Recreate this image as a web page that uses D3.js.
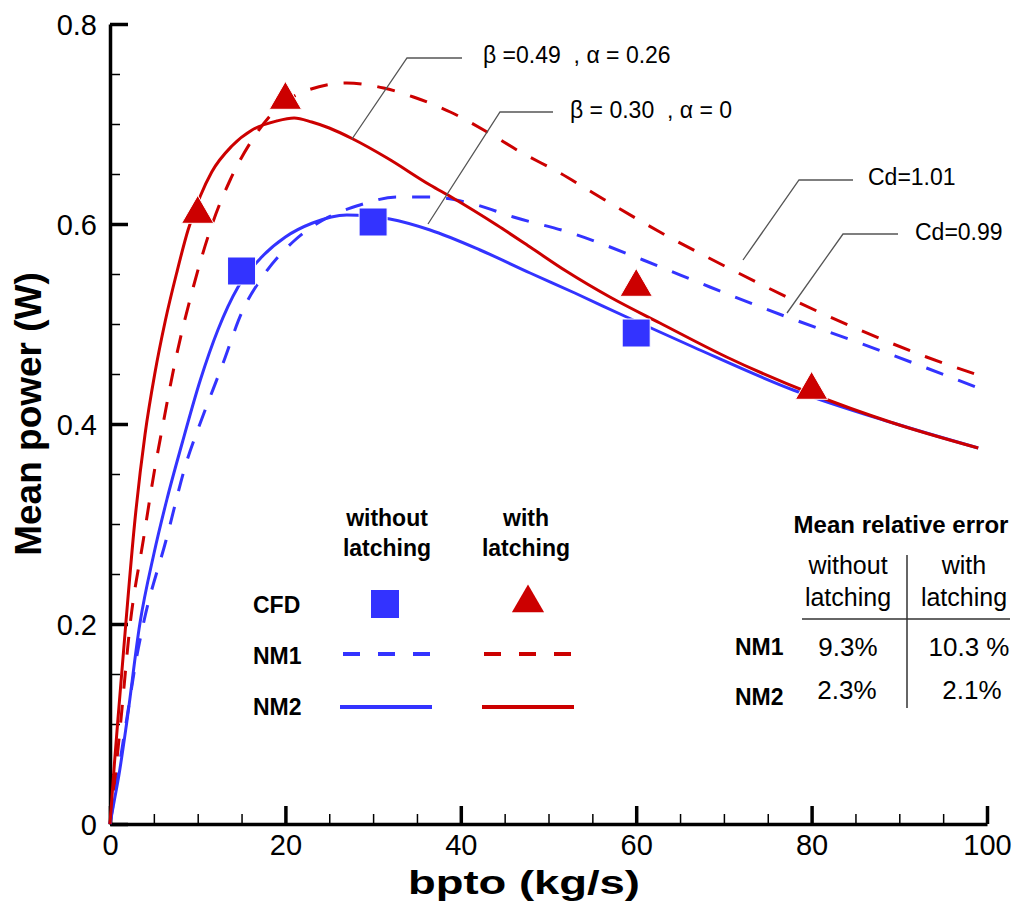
<!DOCTYPE html>
<html>
<head>
<meta charset="utf-8">
<script src="https://cdn.jsdelivr.net/npm/d3@7"></script>
<style>
  html, body { margin: 0; padding: 0; background: #fff; }
  svg { display: block; font-family: "Liberation Sans", Arial, sans-serif; }
  .pre { white-space: pre; }
</style>
</head>
<body>
<svg id="chart" width="1016" height="901"></svg>
<script>
// ---------- data ----------
const xTicks = [0, 20, 40, 60, 80, 100];
const yTicks = [0, 0.2, 0.4, 0.6, 0.8];
const xTickLabels = ["0", "20", "40", "60", "80", "100"];
const yTickLabels = ["0", "0.2", "0.4", "0.6", "0.8"];

// NM2 with latching (red solid)
const nm2LatchX = [0, 0.5, 1, 1.8, 2.8, 4, 5.1, 6.3, 7.6, 8.9, 10.3, 11.6, 13.9, 16.2, 19, 21, 23, 25, 27.7, 31.6, 36.5, 39.1, 44.1, 47.9, 52, 57, 62.7, 70.3, 79.8, 89.3, 99];
const nm2LatchY = [0, 0.06, 0.115, 0.2, 0.3, 0.39, 0.45, 0.503, 0.551, 0.594, 0.628, 0.652, 0.678, 0.694, 0.703, 0.706, 0.702, 0.696, 0.685, 0.666, 0.639, 0.626, 0.599, 0.577, 0.553, 0.527, 0.501, 0.467, 0.431, 0.401, 0.376];

// NM2 without latching (blue solid)
const nm2NoLatchX = [0, 0.5, 1, 1.9, 3.4, 5, 6.5, 8.2, 10.3, 12.3, 14.6, 17.3, 20, 23.1, 27, 31.9, 36.5, 42.2, 47.9, 53, 58.9, 66.5, 77.9, 89.3, 99];
const nm2NoLatchY = [0, 0.024, 0.048, 0.101, 0.2, 0.27, 0.325, 0.38, 0.444, 0.494, 0.537, 0.567, 0.587, 0.601, 0.609, 0.605, 0.594, 0.574, 0.551, 0.531, 0.507, 0.477, 0.434, 0.401, 0.376];

// NM1 with latching (red dashed)
const nm1LatchX = [0, 0.5, 1.2, 2.3, 3.8, 5.1, 5.9, 7.4, 9.5, 11.7, 13.7, 16.2, 19, 22, 27, 31.2, 34.6, 38.8, 43, 46.8, 51.3, 55.1, 62.7, 70.3, 77.9, 85.5, 93.1, 99];
const nm1LatchY = [0, 0.04, 0.1, 0.2, 0.284, 0.355, 0.393, 0.461, 0.537, 0.601, 0.644, 0.684, 0.715, 0.732, 0.741, 0.736, 0.727, 0.712, 0.692, 0.672, 0.651, 0.631, 0.592, 0.557, 0.524, 0.494, 0.467, 0.449];

// NM1 without latching (blue dashed)
const nm1NoLatchX = [0, 1, 2, 3, 3.8, 6.4, 8.8, 10, 12.9, 15, 17.7, 21.1, 24.5, 28.5, 32.7, 36.5, 41, 46, 52.6, 60.8, 68.4, 77.2, 85.5, 93.1, 99];
const nm1NoLatchY = [0, 0.055, 0.11, 0.165, 0.2, 0.284, 0.364, 0.394, 0.461, 0.511, 0.551, 0.584, 0.605, 0.619, 0.627, 0.627, 0.621, 0.607, 0.591, 0.564, 0.537, 0.507, 0.481, 0.456, 0.436];

// CFD
const cfdNoLatchX = [15, 30, 60];
const cfdNoLatchY = [0.553, 0.602, 0.491];
const cfdLatchX = [10, 20, 60, 80];
const cfdLatchY = [0.612, 0.726, 0.539, 0.436];

// ---------- setup ----------
const BLUE = "#3333FF", RED = "#CC0000";
const svg = d3.select("#chart");
const x = d3.scaleLinear().domain([0, 100]).range([110, 987]);
const y = d3.scaleLinear().domain([0, 0.8]).range([824, 24]);

// axes
const gx = svg.append("g").attr("transform", "translate(0,824)");
gx.call(d3.axisBottom(x).tickValues(d3.range(0, 101, 5)).tickSizeInner(-10).tickSizeOuter(0).tickFormat(""));
gx.selectAll(".tick line").attr("stroke", "#000").attr("stroke-width", 1.5);
gx.select(".domain").remove();
const gx2 = svg.append("g").attr("transform", "translate(0,824)");
gx2.call(d3.axisBottom(x).tickValues(xTicks).tickSizeInner(-18).tickSizeOuter(0).tickFormat((d, i) => xTickLabels[i]));
gx2.selectAll(".tick line").attr("stroke", "#000").attr("stroke-width", 3.5);
gx2.select(".domain").attr("stroke", "#000").attr("stroke-width", 3.5);
gx2.selectAll(".tick text").attr("y", 31).attr("dy", 0).attr("font-size", 29).attr("fill", "#000")
  .attr("font-family", "Liberation Sans, Arial, sans-serif");

const gy = svg.append("g").attr("transform", "translate(110,0)");
gy.call(d3.axisLeft(y).tickValues(d3.range(0, 0.801, 0.05)).tickSizeInner(-10).tickSizeOuter(0).tickFormat(""));
gy.selectAll(".tick line").attr("stroke", "#000").attr("stroke-width", 1.5);
gy.select(".domain").remove();
const gy2 = svg.append("g").attr("transform", "translate(110,0)");
gy2.call(d3.axisLeft(y).tickValues(yTicks).tickSizeInner(-18).tickSizeOuter(0).tickPadding(13).tickFormat((d, i) => yTickLabels[i]));
gy2.selectAll(".tick line").attr("stroke", "#000").attr("stroke-width", 3.5);
gy2.select(".domain").attr("stroke", "#000").attr("stroke-width", 3.5);
gy2.selectAll(".tick text").attr("font-size", 29).attr("fill", "#000").attr("dy", "0.35em")
  .attr("font-family", "Liberation Sans, Arial, sans-serif");

// axis titles
svg.append("text").attr("x", 524).attr("y", 894).attr("text-anchor", "middle")
  .attr("font-size", 33).attr("font-weight", "bold")
  .attr("textLength", 232).attr("lengthAdjust", "spacingAndGlyphs").text("bpto (kg/s)");
svg.append("text").attr("transform", "translate(41,414) rotate(-90)").attr("text-anchor", "middle")
  .attr("font-size", 37).attr("font-weight", "bold").text("Mean power (W)");

// lines
const line = d3.line().x(d => x(d[0])).y(d => y(d[1])).curve(d3.curveMonotoneX);
function drawLine(xs, ys, color, dashed) {
  svg.append("path").datum(xs.map((v, i) => [v, ys[i]]))
    .attr("d", line).attr("fill", "none").attr("stroke", color).attr("stroke-width", 3)
    .attr("stroke-linejoin", "round")
    .attr("stroke-dasharray", dashed ? "18,16" : null);
}
drawLine(nm1NoLatchX, nm1NoLatchY, BLUE, true);
drawLine(nm1LatchX, nm1LatchY, RED, true);
drawLine(nm2NoLatchX, nm2NoLatchY, BLUE, false);
drawLine(nm2LatchX, nm2LatchY, RED, false);

// markers
const sq = d3.symbol().type(d3.symbolSquare).size(28 * 28);
const tri = d3.symbol().type(d3.symbolTriangle).size(450);
svg.append("g").selectAll("path").data(cfdNoLatchX.map((v, i) => [v, cfdNoLatchY[i]])).join("path")
  .attr("d", sq).attr("transform", d => `translate(${x(d[0])},${y(d[1])})`)
  .attr("fill", BLUE).attr("stroke", "#fff").attr("stroke-width", 1);
svg.append("g").selectAll("path").data(cfdLatchX.map((v, i) => [v, cfdLatchY[i]])).join("path")
  .attr("d", tri).attr("transform", d => `translate(${x(d[0])},${y(d[1]) + 2})`)
  .attr("fill", RED).attr("stroke", "#fff").attr("stroke-width", 1);

// leader annotations
const leaders = [
  { pts: [[352, 139], [407, 58], [462, 58]], tx: 483, ty: 55, t: "β =0.49  , α = 0.26" },
  { pts: [[428, 224], [500, 112], [553, 112]], tx: 570, ty: 110, t: "β = 0.30  , α = 0" },
  { pts: [[743, 260], [799, 180], [853, 180]], tx: 868, ty: 177, t: "Cd=1.01" },
  { pts: [[787, 313], [843, 234], [898, 234]], tx: 915, ty: 232, t: "Cd=0.99" }
];
leaders.forEach(l => {
  svg.append("polyline").attr("points", l.pts.map(p => p.join(",")).join(" "))
    .attr("fill", "none").attr("stroke", "#555").attr("stroke-width", 1.3);
  svg.append("text").attr("class", "pre").attr("x", l.tx).attr("y", l.ty).attr("dy", "0.35em")
    .attr("font-size", 23).attr("fill", "#000").text(l.t);
});

// legend
const lg = svg.append("g").attr("font-size", 23).attr("font-weight", "bold").attr("fill", "#000");
lg.append("text").attr("x", 387).attr("y", 518).attr("dy", "0.35em").attr("text-anchor", "middle").text("without");
lg.append("text").attr("x", 387).attr("y", 548).attr("dy", "0.35em").attr("text-anchor", "middle").text("latching");
lg.append("text").attr("x", 526).attr("y", 518).attr("dy", "0.35em").attr("text-anchor", "middle").text("with");
lg.append("text").attr("x", 526).attr("y", 548).attr("dy", "0.35em").attr("text-anchor", "middle").text("latching");
lg.append("text").attr("x", 253).attr("y", 605).attr("dy", "0.35em").text("CFD");
lg.append("text").attr("x", 253).attr("y", 656).attr("dy", "0.35em").text("NM1");
lg.append("text").attr("x", 253).attr("y", 707).attr("dy", "0.35em").text("NM2");
svg.append("path").attr("d", sq).attr("transform", "translate(385,604)").attr("fill", BLUE);
svg.append("path").attr("d", tri).attr("transform", "translate(528,603)").attr("fill", RED);
[[343, 432, BLUE], [484, 573, RED]].forEach(s => {
  svg.append("line").attr("x1", s[0]).attr("x2", s[1]).attr("y1", 654).attr("y2", 654)
    .attr("stroke", s[2]).attr("stroke-width", 4).attr("stroke-dasharray", "17,18");
});
[[340, 432, BLUE], [482, 574, RED]].forEach(s => {
  svg.append("line").attr("x1", s[0]).attr("x2", s[1]).attr("y1", 707).attr("y2", 707)
    .attr("stroke", s[2]).attr("stroke-width", 4);
});

// error table
const tb = svg.append("g").attr("fill", "#000");
tb.append("text").attr("x", 901).attr("y", 525).attr("dy", "0.35em").attr("text-anchor", "middle")
  .attr("font-size", 24).attr("font-weight", "bold").text("Mean relative error");
[["without", 848, 565], ["latching", 848, 597], ["with", 964, 565], ["latching", 964, 597]].forEach(h => {
  tb.append("text").attr("x", h[1]).attr("y", h[2]).attr("dy", "0.35em").attr("text-anchor", "middle")
    .attr("font-size", 25).text(h[0]);
});
tb.append("line").attr("x1", 907).attr("x2", 907).attr("y1", 555).attr("y2", 708).attr("stroke", "#333").attr("stroke-width", 1.5);
tb.append("line").attr("x1", 802).attr("x2", 1010).attr("y1", 619).attr("y2", 619).attr("stroke", "#333").attr("stroke-width", 1.5);
[["NM1", 647], ["NM2", 697]].forEach(r => {
  tb.append("text").attr("x", 735).attr("y", r[1]).attr("dy", "0.35em")
    .attr("font-size", 23).attr("font-weight", "bold").text(r[0]);
});
[["9.3%", 848, 647], ["10.3 %", 969, 647], ["2.3%", 847, 690], ["2.1%", 972, 690]].forEach(v => {
  tb.append("text").attr("class", "pre").attr("x", v[1]).attr("y", v[2]).attr("dy", "0.35em").attr("text-anchor", "middle")
    .attr("font-size", 26).text(v[0]);
});
</script>
</body>
</html>
